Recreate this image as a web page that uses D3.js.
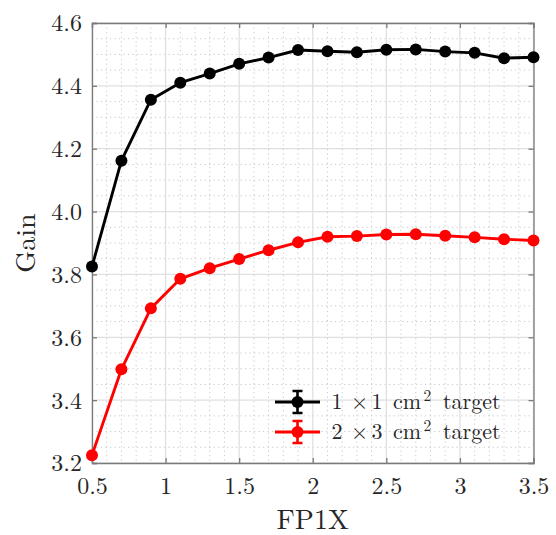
<!DOCTYPE html>
<html>
<head>
<meta charset="utf-8">
<script src="https://cdn.jsdelivr.net/npm/d3@7"></script>
<style>
  html, body { margin: 0; padding: 0; background: #fff; }
</style>
</head>
<body>
<svg id="chart" width="556" height="535"></svg>
<script>
// FP1X settings shared by both targets
const fp1x = [0.5, 0.7, 0.9, 1.1, 1.3, 1.5, 1.7, 1.9, 2.1, 2.3, 2.5, 2.7, 2.9, 3.1, 3.3, 3.5];

// Gain for the 1 x 1 cm^2 target
const gainSmall = [3.825, 4.162, 4.356, 4.410, 4.439, 4.470, 4.490, 4.514, 4.510, 4.507, 4.515, 4.516, 4.509, 4.505, 4.488, 4.491];
const errSmall  = [0.004, 0.004, 0.004, 0.004, 0.004, 0.004, 0.004, 0.004, 0.004, 0.004, 0.004, 0.004, 0.004, 0.004, 0.004, 0.004];

// Gain for the 2 x 3 cm^2 target
const gainLarge = [3.225, 3.498, 3.692, 3.786, 3.820, 3.849, 3.877, 3.902, 3.920, 3.922, 3.927, 3.928, 3.923, 3.918, 3.912, 3.908];
const errLarge  = [0.004, 0.004, 0.004, 0.004, 0.004, 0.004, 0.004, 0.004, 0.004, 0.004, 0.004, 0.004, 0.004, 0.004, 0.004, 0.004];

const xTicks = [0.5, 1, 1.5, 2, 2.5, 3, 3.5];
const xTickLabels = ["0.5", "1", "1.5", "2", "2.5", "3", "3.5"];
const yTicks = [3.2, 3.4, 3.6, 3.8, 4.0, 4.2, 4.4, 4.6];
const yTickLabels = ["3.2", "3.4", "3.6", "3.8", "4.0", "4.2", "4.4", "4.6"];

const seriesDims = [["1", "1"], ["2", "3"]];
const seriesColors = ["#000000", "#ff0000"];

const FONT = '"Latin Modern Roman", "Liberation Serif", serif';
const TEXT_COLOR = "#262626";

const svg = d3.select("#chart");
const plotL = 92, plotR = 533.5, plotT = 23, plotB = 463;

const x = d3.scaleLinear().domain([0.5, 3.5]).range([plotL, plotR]);
const y = d3.scaleLinear().domain([3.2, 4.6]).range([plotB, plotT]);

// grid: minor dotted, then major solid
const g = svg.append("g");
const xMinor = d3.range(6, 35).map(v => v / 10).filter(v => Math.abs(v * 2 - Math.round(v * 2)) > 1e-6);
const yMinor = d3.range(64, 93).map(v => v / 20).filter(v => Math.abs(v * 5 - Math.round(v * 5)) > 1e-6);

g.selectAll(".xminor").data(xMinor).join("line")
  .attr("x1", d => x(d)).attr("x2", d => x(d)).attr("y1", plotT).attr("y2", plotB)
  .attr("stroke", "#c8c8c8").attr("stroke-width", 1).attr("stroke-dasharray", "1.2,3.3");
g.selectAll(".yminor").data(yMinor).join("line")
  .attr("y1", d => y(d)).attr("y2", d => y(d)).attr("x1", plotL).attr("x2", plotR)
  .attr("stroke", "#c8c8c8").attr("stroke-width", 1).attr("stroke-dasharray", "1.2,3.3");

g.selectAll(".xmajor").data(xTicks).join("line")
  .attr("x1", d => x(d)).attr("x2", d => x(d)).attr("y1", plotT).attr("y2", plotB)
  .attr("stroke", "#e0e0e0").attr("stroke-width", 1.3);
g.selectAll(".ymajor").data(yTicks).join("line")
  .attr("y1", d => y(d)).attr("y2", d => y(d)).attr("x1", plotL).attr("x2", plotR)
  .attr("stroke", "#e0e0e0").attr("stroke-width", 1.3);

// axes (box with inward ticks on all sides)
const axisColor = "#7a7a7a";
const tickLen = 5;
const axB = svg.append("g").attr("transform", `translate(0,${plotB})`)
  .call(d3.axisBottom(x).tickValues(xTicks).tickSize(-tickLen).tickPadding(13)
    .tickFormat((d, i) => xTickLabels[i]));
const axT = svg.append("g").attr("transform", `translate(0,${plotT})`)
  .call(d3.axisTop(x).tickValues(xTicks).tickSize(-tickLen).tickFormat(""));
const axL = svg.append("g").attr("transform", `translate(${plotL},0)`)
  .call(d3.axisLeft(y).tickValues(yTicks).tickSize(-tickLen).tickPadding(10)
    .tickFormat((d, i) => yTickLabels[i]));
const axR = svg.append("g").attr("transform", `translate(${plotR},0)`)
  .call(d3.axisRight(y).tickValues(yTicks).tickSize(-tickLen).tickFormat(""));

[axB, axT, axL, axR].forEach(a => {
  a.select(".domain").attr("stroke", axisColor).attr("stroke-width", 1.3);
  a.selectAll(".tick line").attr("stroke", axisColor).attr("stroke-width", 1.3);
  a.selectAll("text").style("font-family", FONT).style("font-size", "24px").attr("fill", TEXT_COLOR);
});
axB.selectAll(".tick text").attr("dy", "0.74em");
axL.selectAll(".tick text").attr("dy", "0.33em");

// axis labels
svg.append("text").attr("x", (plotL + plotR) / 2).attr("y", 528.5)
  .attr("text-anchor", "middle").style("font-family", FONT).style("font-size", "28px")
  .attr("fill", TEXT_COLOR).text("FP1X");
svg.append("text").attr("transform", `translate(35,${(plotT + plotB) / 2}) rotate(-90)`)
  .attr("text-anchor", "middle").style("font-family", FONT).style("font-size", "28px")
  .attr("fill", TEXT_COLOR).text("Gain");

// series
const series = [
  { vals: gainSmall, err: errSmall, color: seriesColors[0] },
  { vals: gainLarge, err: errLarge, color: seriesColors[1] }
];
const line = d3.line().x(d => x(d[0])).y(d => y(d[1]));

series.forEach(s => {
  const pts = fp1x.map((v, i) => [v, s.vals[i], s.err[i]]);
  const sg = svg.append("g");
  sg.append("path").datum(pts).attr("d", line)
    .attr("fill", "none").attr("stroke", s.color).attr("stroke-width", 2.9).attr("stroke-linejoin", "round");
  // error bars
  sg.selectAll(".eb").data(pts).join("path")
    .attr("d", d => {
      const cx = x(d[0]), yl = y(d[1] - d[2]), yh = y(d[1] + d[2]);
      return `M${cx - 5},${yl}H${cx + 5}M${cx},${yl}V${yh}M${cx - 5},${yh}H${cx + 5}`;
    })
    .attr("stroke", s.color).attr("stroke-width", 2).attr("fill", "none");
  sg.selectAll("circle").data(pts).join("circle")
    .attr("cx", d => x(d[0])).attr("cy", d => y(d[1])).attr("r", 6)
    .attr("fill", s.color);
});

// legend
const legRows = [402, 432];
const leg = svg.append("g");
series.forEach((s, i) => {
  const cy = legRows[i], cx = 297.5;
  leg.append("line").attr("x1", 275).attr("x2", 320).attr("y1", cy).attr("y2", cy)
    .attr("stroke", s.color).attr("stroke-width", 2.9);
  leg.append("path")
    .attr("d", `M${cx - 5},${cy - 11}H${cx + 5}M${cx},${cy - 11}V${cy + 11}M${cx - 5},${cy + 11}H${cx + 5}`)
    .attr("stroke", s.color).attr("stroke-width", 2.6).attr("fill", "none");
  leg.append("circle").attr("cx", cx).attr("cy", cy).attr("r", 6).attr("fill", s.color);

  const t = leg.append("text").attr("y", cy + 7).style("font-family", FONT).style("font-size", "22px")
    .attr("fill", TEXT_COLOR);
  t.append("tspan").attr("x", 331.5).text(seriesDims[i][0]);
  t.append("tspan").attr("x", 351).text("\u00d7");
  t.append("tspan").attr("x", 371.5).text(seriesDims[i][1]);
  t.append("tspan").attr("x", 393).text("cm");
  t.append("tspan").attr("x", 423.5).attr("dy", -8.5).style("font-size", "15.5px").text("2");
  t.append("tspan").attr("x", 443).attr("dy", 8.5).text("target");
});
</script>
</body>
</html>
